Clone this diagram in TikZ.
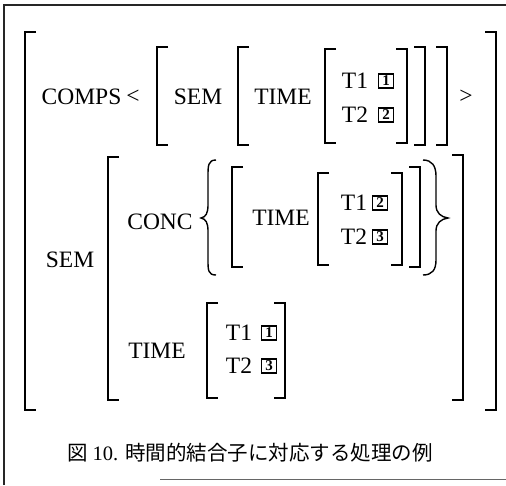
\documentclass[tikz,border=0pt]{standalone}
\usepackage{fontspec}
\setmainfont{Liberation Serif}
\newfontfamily\cjk{Noto Sans CJK JP}
\begin{document}
\begin{tikzpicture}[x=1pt,y=-1pt,
  br/.style={line width=1.7pt, line join=miter},
  frm/.style={line width=1.4pt, black!85},
  lbl/.style={font=\fontsize{23.5}{23.5}\selectfont, inner sep=0pt},
  numbox/.style={draw, line width=1.1pt, minimum width=15pt, minimum height=14pt, inner sep=0pt, font=\bfseries\fontsize{15}{15}\selectfont},
  captext/.style={font=\fontsize{20.5}{21}\selectfont, inner sep=0pt}]
\useasboundingbox (0,0) rectangle (506,485);
\newcommand\lbrk[3]{\draw[br] (#1+11,#2) -- (#1,#2) -- (#1,#3) -- (#1+11,#3);}
\newcommand\rbrk[3]{\draw[br] (#1-11,#2) -- (#1,#2) -- (#1,#3) -- (#1-11,#3);}
% frame
\draw[frm] (4,485) -- (4,5) -- (506,5);
\draw[line width=1pt, black!60] (160,479) -- (506,479);
% outer
\lbrk{25}{32}{410}
\rbrk{496}{32}{410}
% top row
\node[lbl] (comps) at (81.5,97) {COMPS};
\node[lbl] (lt) at (133,97) {<};
\lbrk{157}{47}{145}
\node[lbl] (sem1) at (198,97) {SEM};
\lbrk{238}{47}{145}
\node[lbl] (time1) at (283,97) {TIME};
\lbrk{325}{49}{143}
\node[lbl] (t11) at (355,81) {T1};
\node[numbox] (b11) at (386,81) {1};
\node[lbl] (t21) at (355,115) {T2};
\node[numbox] (b21) at (386,115) {2};
\rbrk{407}{49}{143}
\rbrk{425}{47}{145}
\rbrk{447}{47}{145}
\node[lbl] (gt) at (466,97) {>};
% SEM row
\node[lbl] (sem2) at (70,260) {SEM};
\lbrk{108}{157}{400}
\rbrk{463}{155}{400}
\node[lbl] (conc) at (160,222) {CONC};
\draw[br, line width=1.4pt] (216,160) .. controls (208,160) and (208,166) .. (208,176) -- (208,205) .. controls (208,213) and (206,217) .. (201,218) .. controls (206,219) and (208,223) .. (208,231) -- (208,260) .. controls (208,270) and (208,275) .. (216,275);
\lbrk{232}{167}{267}
\node[lbl] (time2) at (281,218) {TIME};
\lbrk{318}{173}{265}
\node[lbl] (t12) at (354,203) {T1};
\node[numbox] (b12) at (380,203) {2};
\node[lbl] (t22) at (354,237) {T2};
\node[numbox] (b22) at (380,237) {3};
\rbrk{402}{173}{265}
\rbrk{420}{167}{267}
\draw[br, line width=1.4pt] (423,160) .. controls (432,160) and (436,166) .. (436,176) -- (436,205) .. controls (436,213) and (441,217) .. (448,218) .. controls (441,219) and (436,223) .. (436,231) -- (436,260) .. controls (436,270) and (432,275) .. (423,275);
% bottom TIME
\node[lbl] (time3) at (157,351) {TIME};
\lbrk{207}{303}{398}
\node[lbl] (t13) at (239,333) {T1};
\node[numbox] (b13) at (269,333) {1};
\node[lbl] (t23) at (239,366) {T2};
\node[numbox] (b23) at (269,366) {3};
\rbrk{285}{303}{398}
% caption
\node[captext] (caption) at (250,453) {\cjk 図 \rmfamily 10. \cjk 時間的結合子に対応する処理の例};
\end{tikzpicture}
\end{document}
